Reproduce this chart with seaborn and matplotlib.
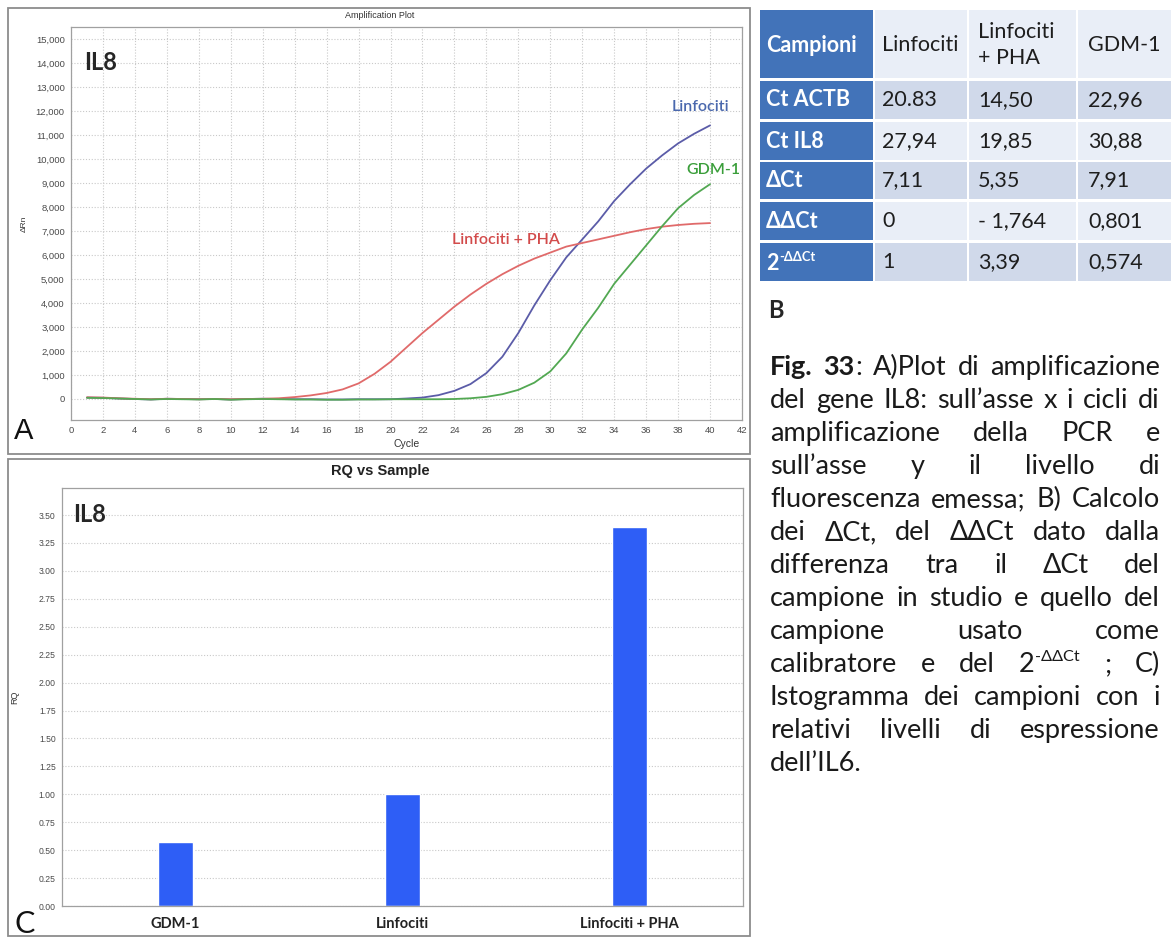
import matplotlib
matplotlib.use("Agg")
import numpy as np
import pandas as pd
import matplotlib.pyplot as plt
from matplotlib.patches import Rectangle
import seaborn as sns

# ---------------- data ----------------
cycles = list(range(1, 41))
rn_linfociti = [60, 50, 20, 0, -20, 10, 0, -10, 0, -20, 0, 10, 0, -10, -10, -20, -20, -10, -10, -10,
                20, 60, 160, 340, 620, 1080, 1760, 2750, 3900, 4950, 5900, 6650, 7400, 8250, 8950,
                9600, 10150, 10650, 11050, 11400]
rn_linfociti_pha = [70, 60, 30, 10, -10, 10, 0, -10, 0, -10, 0, 10, 30, 80, 150, 250, 400, 650, 1050, 1550,
                    2150, 2750, 3300, 3850, 4350, 4800, 5200, 5550, 5850, 6100, 6350, 6500, 6650, 6800,
                    6950, 7080, 7180, 7250, 7300, 7330]
rn_gdm1 = [50, 40, 20, 0, -20, 0, -10, -20, 0, -30, -10, 0, -10, -20, -20, -30, -30, -20, -20, -10,
           -10, -10, -10, 0, 30, 90, 200, 380, 680, 1150, 1900, 2900, 3800, 4800, 5600, 6400, 7200,
           7950, 8500, 8950]
curve_names = ["Linfociti", "Linfociti + PHA", "GDM-1"]
curve_colors = ["#5b5ca8", "#e06a6a", "#52a852"]
label_colors = ["#4a68ad", "#d24b4b", "#3a9e3a"]

rq_samples = ["GDM-1", "Linfociti", "Linfociti + PHA"]
rq_values = [0.574, 1.0, 3.39]

table_header = ["Campioni", "Linfociti", "Linfociti\n+ PHA", "GDM-1"]
table_rows = ["Ct ACTB", "Ct IL8", "ΔCt", "ΔΔCt", "2^{-ΔΔCt}"]
table_values = [["20.83", "14,50", "22,96"],
                ["27,94", "19,85", "30,88"],
                ["7,11", "5,35", "7,91"],
                ["0", "- 1,764", "0,801"],
                ["1", "3,39", "0,574"]]

caption_lines = [
    "**Fig. 33**: A)Plot di amplificazione",
    "del gene IL8: sull’asse x i cicli di",
    "amplificazione della PCR e",
    "sull’asse y il livello di",
    "fluorescenza emessa; B) Calcolo",
    "dei ΔCt, del ΔΔCt dato dalla",
    "differenza tra il ΔCt del",
    "campione in studio e quello del",
    "campione usato come",
    "calibratore e del 2^{-ΔΔCt} ; C)",
    "Istogramma dei campioni con i",
    "relativi livelli di espressione",
    "dell’IL6.",
]

# ---------------- style ----------------
sns.set_style("white")
plt.rcParams["font.family"] = ["Liberation Sans", "DejaVu Sans"]
CAL = ["Lato", "DejaVu Sans"]

W, H = 1171, 938
fig = plt.figure(figsize=(W / 100, H / 100), dpi=100)


def rect(x0, y0, x1, y1):
    return [x0 / W, 1 - y1 / H, (x1 - x0) / W, (y1 - y0) / H]


grid_kw = dict(color="#c9c9c9", linestyle=(0, (1, 1.6)), linewidth=0.8)

# ---------------- panel A: amplification plot ----------------
axA = fig.add_axes(rect(71, 27, 742, 420))
df = pd.concat([
    pd.DataFrame({"Cycle": cycles, "dRn": vals, "Sample": name})
    for name, vals in zip(curve_names, [rn_linfociti, rn_linfociti_pha, rn_gdm1])
])
sns.lineplot(data=df, x="Cycle", y="dRn", hue="Sample", hue_order=curve_names,
             palette=dict(zip(curve_names, curve_colors)), errorbar=None,
             legend=False, linewidth=1.3, ax=axA)
axA.set_xlim(0, 42)
axA.set_ylim(-875, 15500)
axA.set_xticks(range(0, 43, 2))
axA.set_yticks(range(0, 15001, 1000))
axA.set_yticklabels([f"{v:,}" for v in range(0, 15001, 1000)])
axA.tick_params(labelsize=6.8, colors="#4a4a4a", length=2.5, width=0.6, pad=2)
axA.grid(True, **grid_kw)
for s in axA.spines.values():
    s.set_color("#a0a0a0")
    s.set_linewidth(0.9)
axA.set_xlabel("Cycle", fontsize=7.5, color="#333333", labelpad=3)
axA.set_ylabel("ΔRn", fontsize=6, color="#333333", labelpad=6)

label_pos = [(39.4, 12150), (27.2, 6630), (40.2, 9540)]
for name, col, (lx, ly) in zip(curve_names, label_colors, label_pos):
    axA.text(lx, ly, name, color=col, fontsize=11.5, fontweight="semibold",
             family=CAL, ha="center", va="center")

# ---------------- panel C: RQ bar chart ----------------
axC = fig.add_axes(rect(62, 488, 743, 906))
sns.barplot(x=rq_samples, y=rq_values, color="#2e5ef6", saturation=1, width=0.15, ax=axC)
axC.set_xlim(-0.5, 2.5)
axC.set_ylim(0, 3.742)
yt = np.arange(0, 3.51, 0.25)
axC.set_yticks(yt)
axC.set_yticklabels([f"{v:.2f}" for v in yt])
axC.tick_params(axis="y", labelsize=6.2, colors="#4a4a4a", length=2.5, width=0.6, pad=2)
axC.tick_params(axis="x", length=0, pad=8)
for lbl in axC.get_xticklabels():
    lbl.set_fontfamily(CAL)
    lbl.set_fontweight("bold")
    lbl.set_fontsize(10.5)
    lbl.set_color("#222222")
axC.yaxis.grid(True, **grid_kw)
axC.set_axisbelow(True)
for s in axC.spines.values():
    s.set_color("#a0a0a0")
    s.set_linewidth(0.9)
axC.set_xlabel("")
axC.set_ylabel("RQ", fontsize=6.5, color="#333333", labelpad=14)

# ---------------- overlay for frames, table, caption ----------------
ov = fig.add_axes([0, 0, 1, 1])
ov.set_xlim(0, W)
ov.set_ylim(H, 0)
ov.axis("off")

ov.add_patch(Rectangle((8, 8), 742, 446, fill=False, edgecolor="#8c8c8c", lw=1.3))
ov.add_patch(Rectangle((8, 459), 742, 477, fill=False, edgecolor="#8c8c8c", lw=1.3))
ov.text(380, 15, "Amplification Plot", fontsize=6.5, color="#333333", ha="center", va="center")
ov.text(380, 471, "RQ vs Sample", fontsize=10.5, fontweight="bold", color="#222222",
        ha="center", va="center")
ov.text(101, 62, "IL8", fontsize=17, fontweight="bold", family=CAL, ha="center", va="center")
ov.text(90, 515, "IL8", fontsize=17, fontweight="bold", family=CAL, ha="center", va="center")
ov.text(14, 431, "A", fontsize=21, ha="left", va="center", color="#111111")
ov.text(15, 924, "C", fontsize=22, family=CAL, ha="left", va="center", color="#111111")
ov.text(768, 310, "B", fontsize=17, fontweight="bold", family=CAL, ha="left", va="center")

renderer = fig.canvas.get_renderer()


def place_sup(x, baseline, base, sup, fs, color, weight):
    t = ov.text(x, baseline, base, fontsize=fs, family=CAL, color=color,
                fontweight=weight, ha="left", va="baseline")
    w = t.get_window_extent(renderer).width
    ov.text(x + w + 1, baseline - fs * 0.55, sup, fontsize=fs * 0.6, family=CAL,
            color=color, fontweight=weight, ha="left", va="baseline")


# table
col_x = [(760, 873), (875, 967), (969, 1076), (1078, 1171)]
row_y = [(10, 78), (81, 119), (122, 160), (162, 199), (202, 240), (243, 281)]
first_col = "#4273b9"
light = "#e9eef7"
dark = "#d0d9ea"
tfs = 15.5
for r, (y0, y1) in enumerate(row_y):
    for c, (x0, x1) in enumerate(col_x):
        if c == 0:
            fc = first_col
        elif r == 0:
            fc = light
        else:
            fc = dark if r % 2 == 1 else light
        ov.add_patch(Rectangle((x0, y0), x1 - x0, y1 - y0, facecolor=fc, edgecolor="none"))

text_x = [766, 882, 978, 1088]
head_y = 45
for c, h in enumerate(table_header):
    if c == 0:
        ov.text(text_x[c], head_y, h, fontsize=tfs, family=CAL, fontweight="bold",
                color="white", ha="left", va="center")
    else:
        ov.text(text_x[c], head_y, h, fontsize=tfs, family=CAL, color="#1e1e1e",
                ha="left", va="center", linespacing=1.35)
for r, (lab, vals) in enumerate(zip(table_rows, table_values)):
    y0, y1 = row_y[r + 1]
    yc = (y0 + y1) / 2
    if "^{" in lab:
        base, sup = lab.split("^{")
        place_sup(text_x[0], yc + 8, base, sup.rstrip("}"), tfs, "white", "bold")
    else:
        ov.text(text_x[0], yc, lab, fontsize=tfs, family=CAL, fontweight="bold",
                color="white", ha="left", va="center")
    for c, v in enumerate(vals):
        ov.text(text_x[c + 1], yc, v, fontsize=tfs, family=CAL, color="#1e1e1e",
                ha="left", va="center")


# justified caption
def parse_line(line):
    words, cur, buf = [], [], ""
    bold = False
    i = 0

    def flush():
        nonlocal buf
        if buf:
            cur.append((buf, "b" if bold else "r"))
            buf = ""

    while i < len(line):
        if line.startswith("**", i):
            flush()
            bold = not bold
            i += 2
            continue
        if line.startswith("^{", i):
            flush()
            j = line.index("}", i)
            cur.append((line[i + 2:j], "sup"))
            i = j + 1
            continue
        ch = line[i]
        if ch == " ":
            flush()
            if cur:
                words.append(cur)
                cur = []
            i += 1
            continue
        buf += ch
        i += 1
    flush()
    if cur:
        words.append(cur)
    return words


cap_left, cap_right = 770, 1160
cap_fs = 19.5
first_baseline = 375
line_step = 33
parsed = [parse_line(l) for l in caption_lines]
artists = []
for words in parsed:
    lw = []
    for word in words:
        ww = []
        for txt, st in word:
            t = ov.text(0, 0, txt, family=CAL, color="#1a1a1a", ha="left", va="baseline",
                        fontweight="bold" if st == "b" else "normal")
            ww.append((t, st))
        lw.append(ww)
    artists.append(lw)


def set_sizes(fs):
    for lw in artists:
        for ww in lw:
            for t, st in ww:
                t.set_fontsize(fs * 0.6 if st == "sup" else fs)


def word_width(ww):
    return sum(t.get_window_extent(renderer).width for t, _ in ww) + (len(ww) - 1) * 0.5


SPACE_EM = 0.2
for _ in range(4):
    set_sizes(cap_fs)
    space = SPACE_EM * cap_fs * 100 / 72
    widest = max(sum(word_width(ww) for ww in lw) + space * (len(lw) - 1)
                 for lw in artists[:-1])
    if widest <= cap_right - cap_left:
        break
    cap_fs *= (cap_right - cap_left) / widest * 0.998

space = SPACE_EM * cap_fs * 100 / 72
for k, lw in enumerate(artists):
    baseline = first_baseline + k * line_step
    widths = [word_width(ww) for ww in lw]
    if k < len(artists) - 1 and len(lw) > 1:
        gap = (cap_right - cap_left - sum(widths)) / (len(lw) - 1)
    else:
        gap = space
    x = cap_left
    for ww, wdt in zip(lw, widths):
        xx = x
        for t, st in ww:
            rise = cap_fs * 0.55 if st == "sup" else 0
            t.set_position((xx, baseline - rise))
            xx += t.get_window_extent(renderer).width + 0.5
        x += wdt + gap

fig.savefig("out.png", dpi=100)
